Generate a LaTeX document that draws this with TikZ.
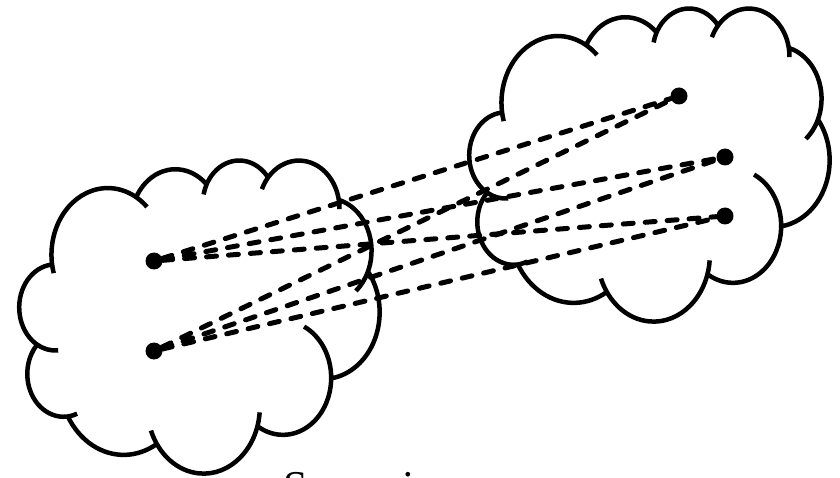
\documentclass[tikz,border=0pt]{standalone}
\usepackage{fontspec}
\setmainfont{Liberation Serif}
\usetikzlibrary{positioning}
\newcommand\arkf[4]{arc[x radius=#1,y radius=#2,start angle={pa(#1,#2,#3)},delta angle={fw(#1,#2,#3,#4)}]}
\newcommand\arkb[4]{arc[x radius=#1,y radius=#2,start angle={pa(#1,#2,#3)},delta angle={-fw(#1,#2,#4,#3)}]}

\begin{document}
\begin{tikzpicture}[x=1pt,y=-1pt,
  declare function={pa(\w,\h,\a)=atan2(\w*sin(\a),\h*cos(\a));
    fw(\w,\h,\a,\b)=mod(pa(\w,\h,\b)-pa(\w,\h,\a)+720,360);},
  rim/.style={draw=black,line width=4.5pt},
  dot/.style={circle,fill=black,inner sep=0pt,minimum size=17pt},
  link/.style={draw=black,line width=5pt,line cap=round,dash pattern=on 10pt off 12pt},
  puff/.pic={
    \draw[rim] (39,143.7)
      \arkb{67.53}{91.90}{-190.49}{-201.49}\arkf{67.53}{91.90}{-201.49}{-54.41}\arkb{67.53}{91.90}{-54.41}{-66.71}
      \arkf{53.33}{72.67}{-144.10}{-54.16}
      \arkb{43.65}{59.45}{-145.81}{-163.51}\arkf{43.65}{59.45}{-163.51}{-46.09}
      \arkb{48.57}{65.95}{-130.99}{-149.19}\arkf{48.57}{65.95}{-149.19}{1.16}\arkb{48.57}{65.95}{1.16}{-13.74}
      \arkf{53.33}{72.73}{-78.71}{58.07}\arkb{53.33}{72.73}{58.07}{30.32}
      \arkf{67.75}{92.20}{-46.27}{84.00}
      \arkb{57.85}{78.67}{0.63}{-70.27}\arkf{57.85}{78.67}{-70.27}{114.66}
      \arkb{67.52}{92.15}{22.45}{6.45}\arkf{67.52}{92.15}{6.45}{152.62}\arkb{67.52}{92.15}{152.62}{137.62}
      \arkf{77.20}{105.43}{66.24}{141.95}
      \arkb{43.60}{59.18}{-274.94}{-286.44}\arkf{43.60}{59.18}{-286.44}{-128.21}
      \arkb{43.45}{59.45}{-246.83}{-273.23}\arkf{43.45}{59.45}{-273.23}{-94.31};
  }
]
\useasboundingbox (0,0) rectangle (840,478);

% the two clouds
\pic[xscale=0.8333,yscale=0.7245] at (19.5,159.5) {puff};
\pic[xscale=0.8333,yscale=0.7245] at (469.5,7.5) {puff};

% points
\node[dot] (a1) at (154,261) {};
\node[dot] (a2) at (154,351) {};
\node[dot] (b1) at (679,96) {};
\node[dot] (b2) at (725,157) {};
\node[dot] (b3) at (725,216) {};

\foreach \s in {a1,a2}
  \foreach \t in {b1,b2,b3}
    \draw[link] (\s) -- (\t);

\node[anchor=base west,font=\fontsize{44}{52}\selectfont,inner sep=0pt] (cap) at (283,501) {Scenario};
\end{tikzpicture}
\end{document}
